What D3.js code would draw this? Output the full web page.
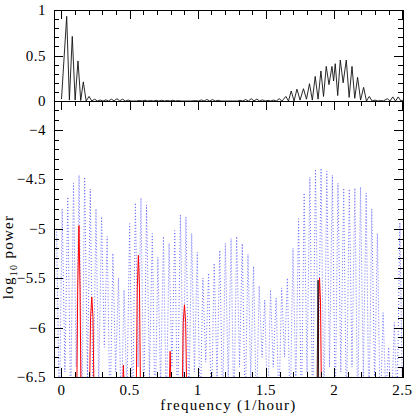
<!DOCTYPE html>
<html lang="en">
<head>
<meta charset="utf-8">
<title>window and power spectra</title>
<script src="https://cdnjs.cloudflare.com/ajax/libs/d3/7.8.5/d3.min.js"></script>
<style>
  body { margin: 0; background: #fff; }
  text { font-family: "Liberation Serif", "Times New Roman", serif; fill: #000; }
  .frame line, .frame rect { stroke: #000; stroke-width: 1; fill: none; shape-rendering: crispEdges; }
  .tick line { stroke: #000; shape-rendering: crispEdges; }
</style>
</head>
<body>
<script>
// top panel: spectral window (frequency, power)
var winFreq = [0.000,0.038,0.058,0.079,0.100,0.121,0.141,0.160,0.181,0.202,0.222,0.243,0.263,0.284,0.305,0.325,0.345,0.366,0.386,0.407,
  0.427,0.448,0.468,0.489,0.509,0.550,0.571,0.591,0.612,0.632,0.653,0.673,0.694,0.714,0.735,0.755,0.776,0.796,0.817,0.837,
  0.858,0.878,0.950,0.985,1.005,1.026,1.046,1.067,1.087,1.108,1.128,1.149,1.169,1.290,1.310,1.330,1.351,1.371,1.392,1.412,
  1.433,1.453,1.474,1.494,1.515,1.535,1.556,1.576,1.597,1.617,1.646,1.665,1.685,1.706,1.727,1.750,1.775,1.797,1.819,1.840,
  1.861,1.882,1.903,1.922,1.942,1.962,1.984,1.996,2.008,2.026,2.045,2.066,2.089,2.110,2.131,2.151,2.172,2.194,2.216,2.237,
  2.258,2.278,2.299,2.320,2.340,2.360,2.390,2.410,2.430,2.450,2.470,2.490,2.505];
var winPower = [0.02,0.93,0.01,0.71,0.01,0.44,0.005,0.21,0.0,0.05,0.0,0.02,0.0,0.01,0.0,0.012,0.0,0.02,0.002,0.025,
  0.002,0.02,0.0,0.01,0.0,0.0,0.006,0.0,0.008,0.0,0.006,0.0,0.008,0.0,0.008,0.0,0.006,0.0,0.008,0.0,
  0.005,0.0,0.0,0.004,0.0,0.012,0.0,0.016,0.0,0.015,0.0,0.008,0.0,0.0,0.008,0.0,0.016,0.0,0.025,0.002,
  0.02,0.0,0.012,0.0,0.006,0.0,0.01,0.0,0.025,0.0,0.05,0.0,0.11,0.0,0.13,0.01,0.135,0.02,0.19,0.01,
  0.27,0.02,0.33,0.05,0.38,0.18,0.38,0.22,0.41,0.06,0.45,0.20,0.45,0.04,0.38,0.03,0.26,0.01,0.15,0.0,
  0.05,0.0,0.01,0.0,0.005,0.0,0.025,0.0,0.045,0.0,0.045,0.0,0.01];

// bottom panel: log10 power, dotted blue periodogram
var specFreq = [-0.036,-0.016,0.005,0.025,0.046,0.067,0.088,0.108,0.129,0.149,0.170,0.190,0.211,0.232,0.253,0.273,0.294,0.314,0.335,0.356,
  0.377,0.397,0.418,0.438,0.459,0.480,0.500,0.521,0.542,0.562,0.583,0.604,0.624,0.645,0.666,0.686,0.707,0.727,0.748,0.769,
  0.789,0.810,0.831,0.851,0.872,0.893,0.913,0.934,0.955,0.975,0.996,1.017,1.037,1.058,1.079,1.099,1.120,1.141,1.161,1.182,
  1.202,1.223,1.244,1.264,1.285,1.306,1.326,1.347,1.368,1.388,1.409,1.430,1.450,1.471,1.491,1.512,1.533,1.553,1.574,1.595,
  1.615,1.636,1.657,1.677,1.698,1.719,1.739,1.760,1.780,1.801,1.822,1.842,1.863,1.884,1.904,1.925,1.946,1.966,1.987,2.008,
  2.028,2.049,2.070,2.090,2.111,2.131,2.152,2.173,2.193,2.214,2.235,2.255,2.276,2.297,2.317,2.338,2.359,2.379,2.400,2.420,
  2.441,2.462,2.482,2.503,2.523];
var specPower = [-5.00,-6.90,-4.80,-6.45,-4.68,-6.80,-4.54,-6.40,-4.46,-6.90,-4.48,-6.50,-4.60,-6.80,-4.80,-6.60,-4.88,-6.20,-5.08,-6.90,
  -5.25,-6.45,-5.50,-6.90,-5.62,-6.70,-4.95,-6.90,-4.74,-6.40,-4.69,-6.85,-4.76,-6.50,-5.05,-6.90,-5.29,-6.60,-5.08,-6.90,
  -5.15,-6.40,-5.02,-6.90,-4.86,-6.50,-4.88,-6.80,-5.05,-6.45,-5.24,-6.90,-5.50,-6.35,-5.45,-6.90,-5.35,-6.50,-5.22,-6.80,
  -5.15,-6.55,-5.10,-6.90,-5.08,-6.40,-5.15,-6.85,-5.26,-6.50,-5.38,-6.90,-5.58,-6.30,-5.72,-6.90,-5.62,-6.40,-5.70,-6.80,
  -5.60,-6.30,-5.50,-6.90,-5.20,-6.60,-4.90,-6.90,-4.64,-6.45,-4.48,-6.90,-4.40,-6.35,-4.39,-6.90,-4.42,-6.40,-4.46,-6.85,
  -4.54,-6.45,-4.59,-6.90,-4.60,-6.40,-4.59,-6.90,-4.58,-6.50,-4.64,-6.90,-4.80,-6.60,-5.05,-6.90,-5.85,-6.70,-6.20,-6.90,
  -5.95,-6.80,-4.94,-6.90,-5.30];

// bottom panel: red spectrum (only its peaks rise above -6.5)
var redFreq = [-0.060,0.110,0.119,0.128,0.136,0.145,0.203,0.213,0.222,0.231,0.242,0.441,0.454,0.468,
  0.546,0.556,0.564,0.572,0.582,0.783,0.797,0.811,0.883,0.893,0.902,0.911,0.922,
  1.876,1.886,1.893,1.900,1.909,2.600];
var redPower = [-7.2,-7.0,-5.6,-4.97,-5.6,-7.0,-7.0,-5.9,-5.69,-5.9,-7.0,-7.0,-6.38,-7.0,
  -7.0,-5.6,-5.27,-5.6,-7.0,-7.0,-6.24,-7.0,-7.0,-5.95,-5.77,-5.95,-7.0,
  -7.0,-5.75,-5.5,-5.75,-7.0,-7.2];

// bottom panel: black spectrum
var blackFreq = [1.872, 1.882, 1.888];
var blackPower = [-7.0, -5.52, -7.0];

// ticks and labels
var xMajor = [0, 0.5, 1, 1.5, 2, 2.5];
var xLabels = ["0", "0.5", "1", "1.5", "2", "2.5"];
var topMajor = [0, 0.5, 1];
var topLabels = ["0", "0.5", "1"];
var botMajor = [-6.5, -6, -5.5, -5, -4.5, -4];
var botLabels = ["\u22126.5", "\u22126", "\u22125.5", "\u22125", "\u22124.5", "\u22124"];

var W = 415, H = 415;
var pLeft = 54, pRight = 403, pTop = 10, pMid = 101, pBottom = 377;

var x = d3.scaleLinear().domain([-0.055, 2.505]).range([pLeft, pRight]);
var yTop = d3.scaleLinear().domain([0, 1]).range([pMid, pTop]);
var yBot = d3.scaleLinear().domain([-6.5, -3.71]).range([pBottom, pMid]);

var xMinor = d3.range(0, 2.51, 0.1).filter(function(d) { return Math.abs(d * 2 - Math.round(d * 2)) > 1e-6; });
var topMinor = d3.range(0.1, 0.95, 0.1).filter(function(d) { return Math.abs(d - 0.5) > 1e-6; });
var botMinor = d3.range(-6.4, -3.75, 0.1).filter(function(d) { return Math.abs(d * 2 - Math.round(d * 2)) > 1e-6; });

var svg = d3.select("body").append("svg")
    .attr("width", W)
    .attr("height", H);

svg.append("rect").attr("width", W).attr("height", H).attr("fill", "#fff");

var defs = svg.append("defs");
defs.append("clipPath").attr("id", "clipTop")
  .append("rect").attr("x", pLeft).attr("y", pTop).attr("width", pRight - pLeft).attr("height", pMid - pTop);
defs.append("clipPath").attr("id", "clipBot")
  .append("rect").attr("x", pLeft).attr("y", pMid).attr("width", pRight - pLeft).attr("height", pBottom - pMid);

// data lines
var lineTop = d3.line().x(function(d) { return x(d[0]); }).y(function(d) { return yTop(d[1]); });
var lineBot = d3.line().x(function(d) { return x(d[0]); }).y(function(d) { return yBot(d[1]); });

svg.append("path")
    .datum(d3.zip(winFreq, winPower))
    .attr("clip-path", "url(#clipTop)")
    .attr("fill", "none")
    .attr("stroke", "#111")
    .attr("stroke-width", 0.9)
    .attr("d", lineTop);

svg.append("path")
    .datum(d3.zip(specFreq, specPower))
    .attr("clip-path", "url(#clipBot)")
    .attr("fill", "none")
    .attr("stroke", "#6c6cff")
    .attr("stroke-width", 1)
    .attr("stroke-dasharray", "1,2")
    .attr("d", lineBot);

svg.append("path")
    .datum(d3.zip(redFreq, redPower))
    .attr("clip-path", "url(#clipBot)")
    .attr("fill", "none")
    .attr("stroke", "#ff0000")
    .attr("stroke-width", 1)
    .attr("d", lineBot);

svg.append("path")
    .datum(d3.zip(blackFreq, blackPower))
    .attr("clip-path", "url(#clipBot)")
    .attr("fill", "none")
    .attr("stroke", "#000")
    .attr("stroke-width", 0.8)
    .attr("d", lineBot);

// inward ticks
function ticks(axis, scale, values, size, tx, ty) {
  svg.append("g")
      .attr("transform", "translate(" + tx + "," + ty + ")")
      .call(axis(scale).tickValues(values).tickSize(-size).tickFormat(""))
      .call(function(g) { g.select(".domain").remove(); });
}

[[xMajor, 9], [xMinor, 5]].forEach(function(t) {
  ticks(d3.axisTop, x, t[0], t[1], 0, pTop);
  ticks(d3.axisTop, x, t[0], t[1], 0, pMid);
  ticks(d3.axisBottom, x, t[0], t[1], 0, pBottom);
});
[[topMajor, 9], [topMinor, 5]].forEach(function(t) {
  ticks(d3.axisLeft, yTop, t[0], t[1], pLeft, 0);
  ticks(d3.axisRight, yTop, t[0], t[1], pRight, 0);
});
[[botMajor, 9], [botMinor, 5]].forEach(function(t) {
  ticks(d3.axisLeft, yBot, t[0], t[1], pLeft, 0);
  ticks(d3.axisRight, yBot, t[0], t[1], pRight, 0);
});

// frame
var frame = svg.append("g").attr("class", "frame");
frame.append("rect").attr("x", pLeft).attr("y", pTop).attr("width", pRight - pLeft).attr("height", pBottom - pTop);
frame.append("line").attr("x1", pLeft).attr("x2", pRight).attr("y1", pMid).attr("y2", pMid);

// tick labels
svg.append("g").selectAll("text")
  .data(xMajor)
  .join("text")
    .attr("x", function(d) { return x(d); })
    .attr("y", 395)
    .attr("text-anchor", "middle")
    .attr("font-size", 15)
    .attr("letter-spacing", 0.5)
    .text(function(d, i) { return xLabels[i]; });

svg.append("g").selectAll("text")
  .data(topMajor)
  .join("text")
    .attr("x", 46)
    .attr("y", function(d) { return yTop(d) + 5; })
    .attr("text-anchor", "end")
    .attr("font-size", 15)
    .attr("letter-spacing", 0.5)
    .text(function(d, i) { return topLabels[i]; });

svg.append("g").selectAll("text")
  .data(botMajor)
  .join("text")
    .attr("x", 46)
    .attr("y", function(d) { return yBot(d) + 5; })
    .attr("text-anchor", "end")
    .attr("font-size", 15)
    .attr("letter-spacing", 0.5)
    .text(function(d, i) { return botLabels[i]; });

// axis titles
svg.append("text")
    .attr("x", (pLeft + pRight) / 2)
    .attr("y", 410)
    .attr("text-anchor", "middle")
    .attr("font-size", 15)
    .attr("letter-spacing", 1.3)
    .text("frequency (1/hour)");

var ylab = svg.append("text")
    .attr("transform", "translate(13,257) rotate(-90)")
    .attr("text-anchor", "middle")
    .attr("font-size", 15)
    .attr("letter-spacing", 1.3);
ylab.append("tspan").text("log");
ylab.append("tspan").attr("font-size", 10).attr("dy", 4).text("10");
ylab.append("tspan").attr("dy", -4).text(" power");
</script>
</body>
</html>
